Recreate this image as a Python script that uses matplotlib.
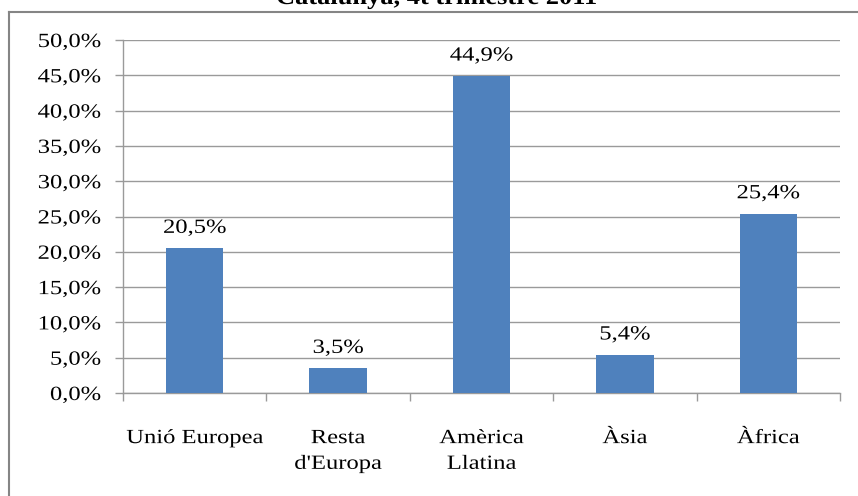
import matplotlib
matplotlib.use("Agg")
import matplotlib.pyplot as plt
from matplotlib.lines import Line2D
from matplotlib.ticker import MultipleLocator, FuncFormatter
from matplotlib.patheffects import AbstractPathEffect
from matplotlib.transforms import Affine2D

categories = ["Unió Europea", "Resta\nd'Europa", "Amèrica\nLlatina", "Àsia", "Àfrica"]
values = [20.5, 3.5, 44.9, 5.4, 25.4]
title = "Catalunya, 4t trimestre 2011"


class WideText(AbstractPathEffect):
    """Draw text glyphs slightly widened around a horizontal anchor."""

    def __init__(self, sx=1.2, anchor="center"):
        super().__init__()
        self.sx = sx
        self.anchor = anchor

    def draw_path(self, renderer, gc, tpath, affine, rgbFace=None):
        ext = tpath.get_extents()
        if self.anchor == "right":
            cx = ext.x1
        elif self.anchor == "left":
            cx = ext.x0
        else:
            cx = 0.5 * (ext.x0 + ext.x1)
        tr = Affine2D().translate(-cx, 0).scale(self.sx, 1).translate(cx, 0) + affine
        renderer.draw_path(gc, tpath, tr, rgbFace)


plt.rcParams["font.family"] = ["Liberation Serif", "DejaVu Serif"]

W, H = 858, 496
fig = plt.figure(figsize=(W / 100, H / 100), dpi=100)
ax = fig.add_axes([123 / W, 1 - 393 / H, (840 - 123) / W, (393 - 40) / H])

bar_color = "#4F81BD"
grid_color = "#9a9a9a"
wide_c = [WideText(1.22, "center")]
wide_r = [WideText(1.22, "right")]

x = list(range(len(categories)))
ax.bar(x, values, width=0.4, color=bar_color, zorder=3)

for xi, v in zip(x, values):
    ax.annotate(f"{v:.1f}%".replace(".", ","), (xi, v), xytext=(0, 7.5),
                textcoords="offset points", ha="center", va="bottom",
                fontsize=14.5, color="black", path_effects=wide_c)

ax.set_xlim(-0.5, len(categories) - 0.5)
ax.set_ylim(0, 50)
ax.yaxis.set_major_locator(MultipleLocator(5))
ax.yaxis.set_major_formatter(FuncFormatter(lambda v, p: f"{v:.1f}%".replace(".", ",")))
ax.set_xticks([i - 0.5 for i in range(len(categories) + 1)])
ax.set_xticklabels([])
ax.set_xticks(x, minor=True)
ax.set_xticklabels(categories, minor=True, fontsize=14.5, linespacing=1.48, va="top")
ax.tick_params(axis="x", which="minor", length=0, pad=26)
ax.tick_params(axis="x", which="major", length=6, color=grid_color, width=1)
ax.tick_params(axis="y", length=6, color=grid_color, width=1, pad=10, labelsize=14.5)
for lab in ax.get_xticklabels(minor=True):
    lab.set_path_effects(wide_c)
for lab in ax.get_yticklabels():
    lab.set_path_effects(wide_r)

ax.grid(axis="y", color=grid_color, linewidth=1, zorder=0)
for side in ("top", "right"):
    ax.spines[side].set_visible(False)
for side in ("left", "bottom"):
    ax.spines[side].set_color(grid_color)
    ax.spines[side].set_linewidth(1)

# Outer frame: top and left edges
frame_color = "#858585"
fig.add_artist(Line2D([8.5 / W, 1], [1 - 11.5 / H, 1 - 11.5 / H], transform=fig.transFigure,
                      color=frame_color, linewidth=1.5))
fig.add_artist(Line2D([8.5 / W, 8.5 / W], [0, 1 - 11.5 / H], transform=fig.transFigure,
                      color=frame_color, linewidth=1.5))

fig.text(437 / W, 1 - 4 / H, title, ha="center", va="baseline", fontsize=17,
         fontweight="bold", path_effects=[WideText(1.12, "center")])

fig.savefig("out.png", dpi=100)
